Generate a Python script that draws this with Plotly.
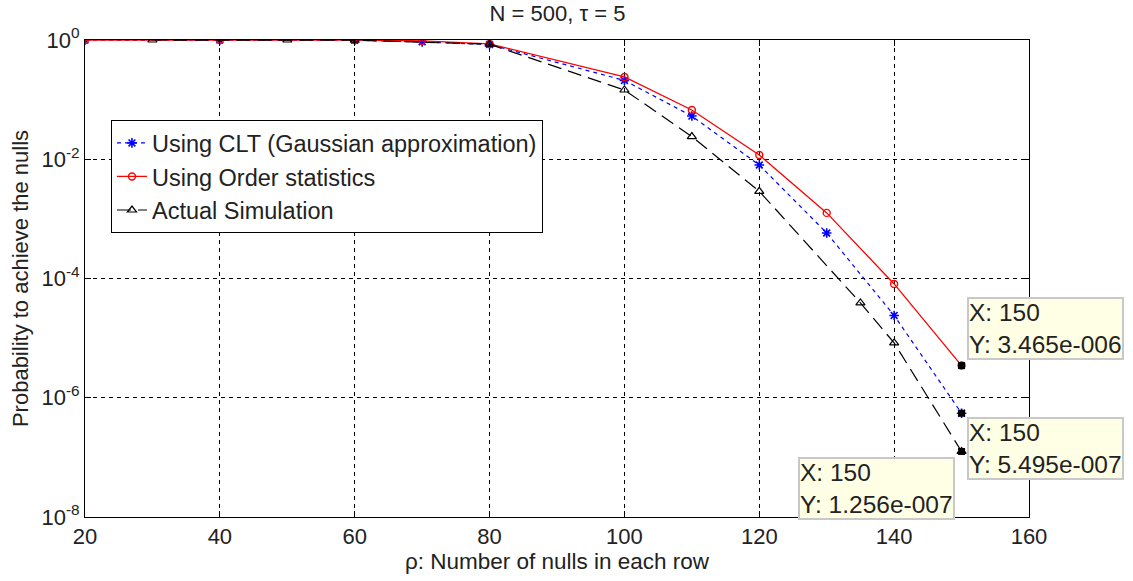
import plotly.graph_objects as go
import numpy as np

# ---- data ----
clt_x = [20, 40, 60, 70, 80, 100, 110, 120, 130, 140, 150]
clt_y = [1.0, 1.0, 0.99, 0.93, 0.84, 0.21, 0.053, 0.008, 5.8e-4, 2.4e-5, 5.495e-7]

ord_x = [20, 40, 60, 70, 80, 100, 110, 120, 130, 140, 150]
ord_y = [1.0, 1.0, 1.0, 0.97, 0.86, 0.24, 0.067, 0.0118, 1.26e-3, 8.1e-5, 3.465e-6]

sim_x = [30, 50, 60, 80, 100, 110, 120, 135, 140, 150]
sim_y = [1.0, 1.0, 0.99, 0.85, 0.145, 0.024, 0.0029, 3.9e-5, 8.3e-6, 1.256e-7]

x_ticks = [20, 40, 60, 80, 100, 120, 140, 160]
y_exps = [0, -2, -4, -6, -8]

tip_x = 150
tip_vals = [3.465e-6, 5.495e-7, 1.256e-7]
tip_texts = ["3.465e-006", "5.495e-007", "1.256e-007"]

FONT = "Liberation Sans, Arial, sans-serif"

W, H = 1133, 581

fig = go.Figure()
fig.add_trace(go.Scatter(
    x=clt_x, y=clt_y, mode="lines+markers", name="Using CLT (Gaussian approximation)",
    line=dict(color="blue", width=1.2, dash="4px,4px"),
    marker=dict(symbol="asterisk-open", size=8, color="blue", line=dict(color="blue", width=1.6)),
))
fig.add_trace(go.Scatter(
    x=ord_x, y=ord_y, mode="lines+markers", name="Using Order statistics",
    line=dict(color="red", width=1.3),
    marker=dict(symbol="circle-open", size=7, color="red", line=dict(color="red", width=1.4)),
))
fig.add_trace(go.Scatter(
    x=sim_x, y=sim_y, mode="lines+markers", name="Actual Simulation",
    line=dict(color="black", width=1.2, dash="14px,7px"),
    marker=dict(symbol="triangle-up-open", size=8, color="black", line=dict(color="black", width=1.2)),
))
# data-tip squares
fig.add_trace(go.Scatter(
    x=[tip_x] * len(tip_vals), y=tip_vals, mode="markers", showlegend=False,
    marker=dict(symbol="square", size=7, color="black"),
))

# data tips
tip_cfg = [
    dict(xanchor="left", yanchor="bottom", xshift=5, yshift=6),
    dict(xanchor="left", yanchor="top", xshift=5, yshift=-4),
    dict(xanchor="right", yanchor="top", xshift=-7, yshift=-6),
]
for v, t, c in zip(tip_vals, tip_texts, tip_cfg):
    fig.add_annotation(
        x=tip_x, y=np.log10(v), xref="x", yref="y",
        text=f"X: {tip_x}<br>Y: {t}", showarrow=False, align="left",
        font=dict(family=FONT, size=24.5, color="#222222"),
        bgcolor="#ffffe6", bordercolor="#c8c8c8", borderwidth=2, borderpad=0,
        **c,
    )

fig.update_layout(
    width=W, height=H,
    margin=dict(l=85, r=104, t=40, b=64),
    paper_bgcolor="white", plot_bgcolor="white",
    font=dict(family=FONT, size=22, color="#222222"),
    title=dict(text="N = 500, τ = 5", x=0.492, xanchor="center", y=1 - 13 / H,
               yanchor="middle", yref="container", font=dict(size=22)),
    legend=dict(x=0.0275, y=0.832, xanchor="left", yanchor="top",
                bgcolor="white", bordercolor="black", borderwidth=1,
                font=dict(size=23.5), tracegroupgap=0),
    showlegend=True,
)
fig.update_xaxes(
    range=[20, 160], tickvals=x_ticks, ticktext=[str(v) for v in x_ticks],
    showline=True, linecolor="black", linewidth=1, mirror="ticks",
    ticks="inside", ticklen=6, tickcolor="black",
    showgrid=True, gridcolor="black", gridwidth=1, griddash="4px,4px",
    zeroline=False, automargin=False,
    title=dict(text="ρ: Number of nulls in each row", standoff=4, font=dict(size=22.5)),
)
fig.update_yaxes(
    type="log", range=[-8, 0],
    tickvals=[10.0 ** e for e in y_exps], ticktext=[f"10<sup>{e}</sup>" for e in y_exps],
    showline=True, linecolor="black", linewidth=1, mirror="ticks",
    ticks="inside", ticklen=6, tickcolor="black",
    showgrid=True, gridcolor="black", gridwidth=1, griddash="4px,4px",
    zeroline=False, automargin=False,
    title=dict(text="Probability to achieve the nulls", standoff=6, font=dict(size=22)),
)

# remove the page's default 8px body margin so the figure fills the window exactly
fig.write_html("out.html", config={"displayModeBar": False},
               post_script="document.body.style.margin='0';")
